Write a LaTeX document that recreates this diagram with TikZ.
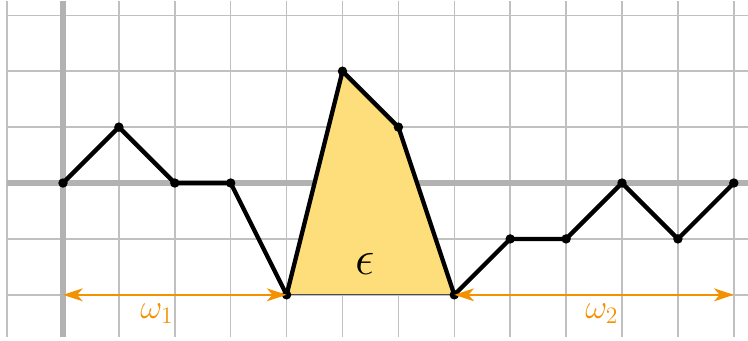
\documentclass[tikz,border=0pt]{standalone}
\usepackage{amsmath,amssymb}
\usepackage{xcolor}
\usepackage{tikz}
\usetikzlibrary{arrows.meta}
\definecolor{gridgray}{RGB}{192, 192, 192}
\definecolor{axisgray}{RGB}{178, 178, 178}
\definecolor{fillyellow}{RGB}{253, 222, 122}
\definecolor{widthorange}{RGB}{243, 146, 0}

\begin{document}
\begin{tikzpicture}[x=1cm,y=1cm]
    \useasboundingbox (-1.127,-2.826) rectangle (12.254,3.274);
    % Background grid and axes
    \draw[gridgray,line width=0.8pt] (-1,-2.75) grid (12.3,3.25);
    \draw[axisgray,line width=3pt] (-1,0) -- (12.3,0);
    \draw[axisgray,line width=3pt] (0,-2.75) -- (0,3.25);
    
    % Points of the polyline
    \foreach \x/\y [count=\i from 0] in {0/0,1/1,2/0,3/0,4/-2,5/2,6/1,7/-2,8/-1,9/-1,10/0,11/-1,12/0}
        \coordinate (p\i) at (\x,\y);
    \coordinate (w1start) at (0,-2);
    \coordinate (w2end) at (12,-2);
    
    % Shaded region epsilon
    \fill[fillyellow] (p4) -- (p5) -- (p6) -- (p7) -- cycle;
    \draw[black!70,line width=0.6pt] (p4) -- (p7);
    \node[font=\Huge] (eps) at (5.4,-1.45) {$\epsilon$};
    
    % Polyline with dots
    \draw[line width=2.2pt,line join=round] (p0) -- (p1) -- (p2) -- (p3) -- (p4) -- (p5) -- (p6)
        -- (p7) -- (p8) -- (p9) -- (p10) -- (p11) -- (p12);
    \foreach \i in {0,...,12}
        \fill (p\i) circle (2.4pt);
    
    % Widths omega_1 and omega_2
    \draw[widthorange,line width=1.3pt,{Stealth[length=10pt,width=6.5pt,inset=2.8pt]}-{Stealth[length=10pt,width=6.5pt,inset=2.8pt]}] (w1start) -- (p4);
    \draw[widthorange,line width=1.3pt,{Stealth[length=10pt,width=6.5pt,inset=2.8pt]}-{Stealth[length=10pt,width=6.5pt,inset=2.8pt]}] (p7) -- (w2end);
    \node[widthorange,font=\LARGE] (w1) at (1.68,-2.33) {$\omega_1$};
    \node[widthorange,font=\LARGE] (w2) at (9.64,-2.33) {$\omega_2$};
\end{tikzpicture}
\end{document}
